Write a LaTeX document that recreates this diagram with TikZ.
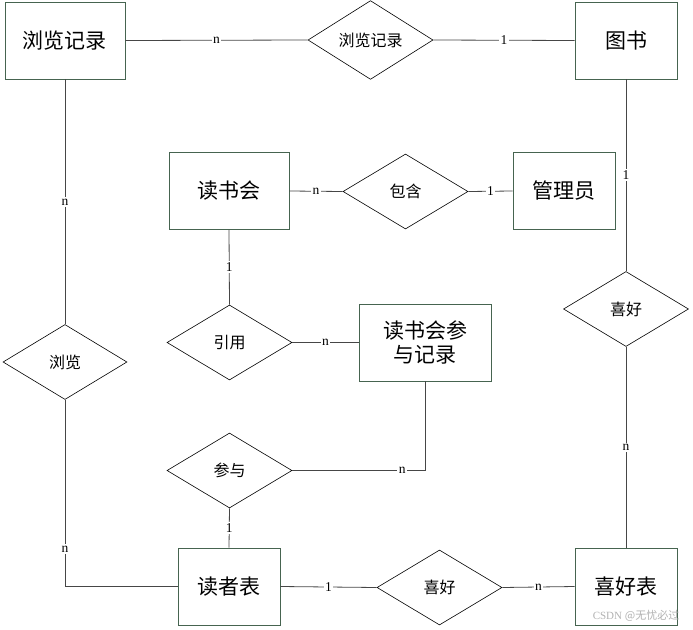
\documentclass[tikz,border=0pt]{standalone}
\usepackage{fontspec}
\newfontfamily\cjk{Noto Sans CJK SC}
\setmainfont{Liberation Serif}
\usetikzlibrary{shapes.geometric}
\definecolor{boxline}{RGB}{70,100,80}
\definecolor{conn}{RGB}{70,70,70}
\tikzset{
  entity/.style={draw=boxline, line width=0.9pt, fill=white, inner sep=0pt,
    minimum width=#1, minimum height=77pt, font=\cjk\fontsize{21}{26}\selectfont, align=center},
  entity/.default=102pt,
  rel/.style={draw, diamond, line width=0.6pt, fill=white, inner sep=0pt,
    minimum width=125pt, minimum height=75pt, font=\cjk\fontsize{16}{20}\selectfont},
  conline/.style={draw=conn, line width=0.8pt},
  card/.style={fill=white, inner sep=1.5pt, font=\fontsize{13.5}{15}\selectfont},
}
\begin{document}
\begin{tikzpicture}[x=1pt,y=-1pt]
\useasboundingbox (0,0) rectangle (693,629);
% entities
\node[entity=120pt] (bj) at (65,40.5) {浏览记录};
\node[entity] (ts) at (626,40.5) {图书};
\node[entity=120pt] (dsh) at (229,191) {读书会};
\node[entity] (gly) at (564,191) {管理员};
\node[entity=132pt] (cyjl) at (425,342.5) {读书会参\\[-2pt]与记录};
\node[entity] (dzb) at (229,586.5) {读者表};
\node[entity] (xhb) at (626,586.5) {喜好表};
% relations
\node[rel] (rbj) at (370.5,40) {浏览记录};
\node[rel] (bh) at (405.5,191.5) {包含};
\node[rel] (yy) at (229.5,342.5) {引用};
\node[rel] (cy) at (229.5,470.5) {参与};
\node[rel] (xh1) at (439.5,587.5) {喜好};
\node[rel] (xh2) at (626,309) {喜好};
\node[rel, minimum width=124pt] (ll) at (65,362) {浏览};
% connectors
\path[conline] (bj.east) -- node[card]{n} (rbj.west);
\path[conline] (rbj.east) -- node[card]{1} (ts.west);
\path[conline] (dsh.east) -- node[card]{n} (bh.west);
\path[conline] (bh.east) -- node[card]{1} (gly.west);
\path[conline] (dsh.south) -- node[card]{1} (yy.north);
\path[conline] (yy.east) -- node[card]{n} (cyjl.west);
\path[conline] (cyjl.south) |- node[card, pos=0.586]{n} (cy.east);
\path[conline] (cy.south) -- node[card]{1} (dzb.north);
\path[conline] (dzb.east) -- node[card]{1} (xh1.west);
\path[conline] (xh1.east) -- node[card]{n} (xhb.west);
\path[conline] (ts.south) -- node[card]{1} (xh2.north);
\path[conline] (xh2.south) -- node[card]{n} (xhb.north);
\path[conline] (bj.south) -- node[card]{n} (ll.north);
\path[conline] (ll.south) |- node[card, pos=0.40]{n} (dzb.west);
% watermark
\node[text=black!30, font=\fontsize{11}{13}\selectfont] (wm) at (636,616) {CSDN {\cjk @无忧必过}};
\end{tikzpicture}
\end{document}
